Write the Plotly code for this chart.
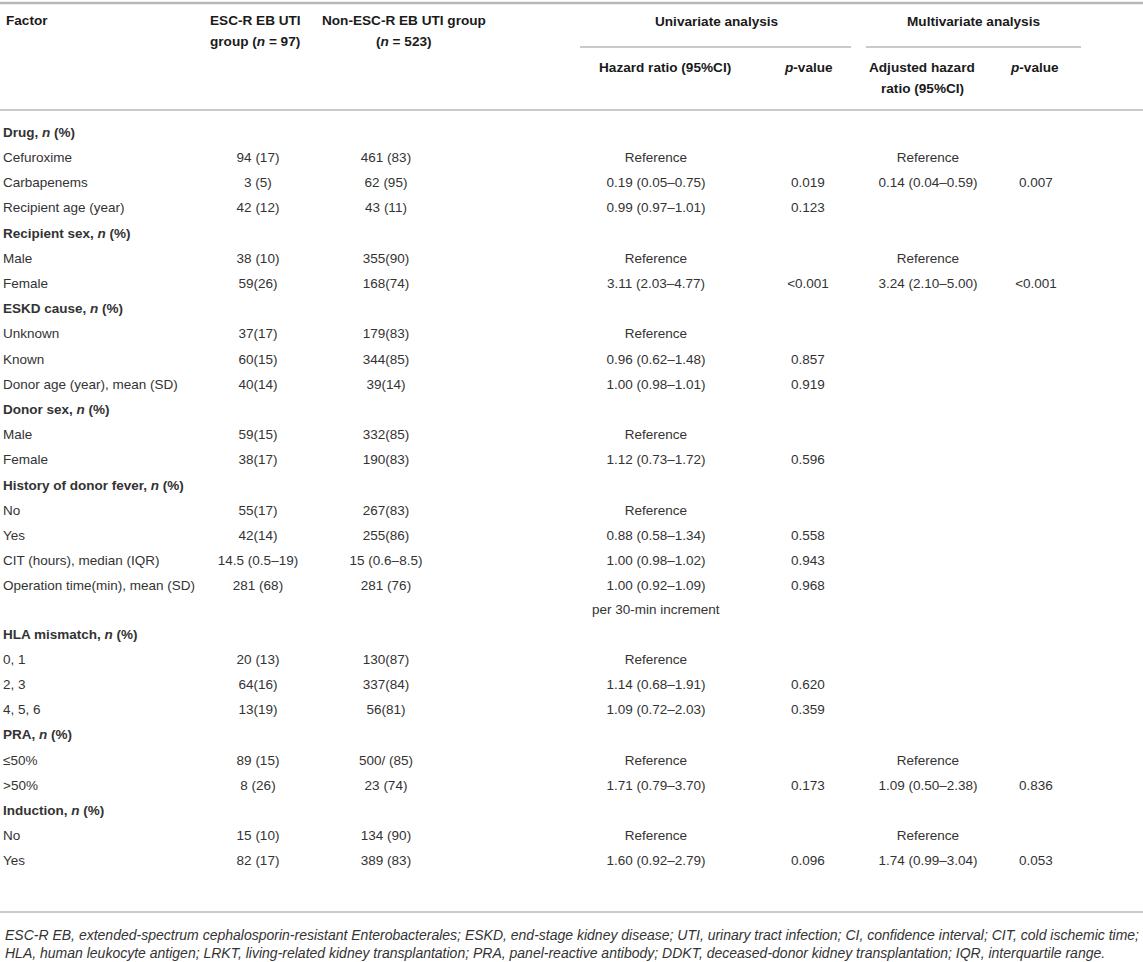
import plotly.graph_objects as go

# table rows (group headers carry an italic n)
factors = [
    "Drug, <i>n</i> (%)", "Cefuroxime", "Carbapenems", "Recipient age (year)",
    "Recipient sex, <i>n</i> (%)", "Male", "Female",
    "ESKD cause, <i>n</i> (%)", "Unknown", "Known", "Donor age (year), mean (SD)",
    "Donor sex, <i>n</i> (%)", "Male", "Female",
    "History of donor fever, <i>n</i> (%)", "No", "Yes",
    "CIT (hours), median (IQR)", "Operation time(min), mean (SD)",
    "HLA mismatch, <i>n</i> (%)", "0, 1", "2, 3", "4, 5, 6",
    "PRA, <i>n</i> (%)", "≤50%", "&gt;50%",
    "Induction, <i>n</i> (%)", "No", "Yes",
]
group_rows = [0, 4, 7, 11, 14, 19, 23, 26]

esc_group = [
    "", "94 (17)", "3 (5)", "42 (12)", "", "38 (10)", "59(26)",
    "", "37(17)", "60(15)", "40(14)", "", "59(15)", "38(17)",
    "", "55(17)", "42(14)", "14.5 (0.5–19)", "281 (68)",
    "", "20 (13)", "64(16)", "13(19)", "", "89 (15)", "8 (26)",
    "", "15 (10)", "82 (17)",
]
non_esc_group = [
    "", "461 (83)", "62 (95)", "43 (11)", "", "355(90)", "168(74)",
    "", "179(83)", "344(85)", "39(14)", "", "332(85)", "190(83)",
    "", "267(83)", "255(86)", "15 (0.6–8.5)", "281 (76)",
    "", "130(87)", "337(84)", "56(81)", "", "500/ (85)", "23 (74)",
    "", "134 (90)", "389 (83)",
]
hazard_ratio = [
    "", "Reference", "0.19 (0.05–0.75)", "0.99 (0.97–1.01)", "", "Reference", "3.11 (2.03–4.77)",
    "", "Reference", "0.96 (0.62–1.48)", "1.00 (0.98–1.01)", "", "Reference", "1.12 (0.73–1.72)",
    "", "Reference", "0.88 (0.58–1.34)", "1.00 (0.98–1.02)", "1.00 (0.92–1.09)",
    "", "Reference", "1.14 (0.68–1.91)", "1.09 (0.72–2.03)", "", "Reference", "1.71 (0.79–3.70)",
    "", "Reference", "1.60 (0.92–2.79)",
]
p_uni = [
    "", "", "0.019", "0.123", "", "", "&lt;0.001",
    "", "", "0.857", "0.919", "", "", "0.596",
    "", "", "0.558", "0.943", "0.968",
    "", "", "0.620", "0.359", "", "", "0.173",
    "", "", "0.096",
]
adj_hazard_ratio = [
    "", "Reference", "0.14 (0.04–0.59)", "", "", "Reference", "3.24 (2.10–5.00)",
    "", "", "", "", "", "", "",
    "", "", "", "", "",
    "", "", "", "", "", "Reference", "1.09 (0.50–2.38)",
    "", "Reference", "1.74 (0.99–3.04)",
]
p_multi = [
    "", "", "0.007", "", "", "", "&lt;0.001",
    "", "", "", "", "", "", "",
    "", "", "", "", "",
    "", "", "", "", "", "", "0.836",
    "", "", "0.053",
]
hr_note = "per 30-min increment"   # second line under the operation-time HR
note_row = 18

footnote = [
    "ESC-R EB, extended-spectrum cephalosporin-resistant Enterobacterales; ESKD, end-stage kidney disease; "
    "UTI, urinary tract infection; CI, confidence interval; CIT, cold ischemic time;",
    "HLA, human leukocyte antigen; LRKT, living-related kidney transplantation; PRA, panel-reactive antibody; "
    "DDKT, deceased-donor kidney transplantation; IQR, interquartile range.",
]

W, H = 1143, 962
FONT = "Liberation Sans"
TXT = "#333333"
HEAD = "#1a1a1a"
LINE = "#b8b8b8"

# vertical layout (pixels from the top)
y0, step, extra = 133.5, 25.2, 23
row_y = [y0 + step * i + (extra if i > note_row else 0) for i in range(len(factors))]

col_x = {"esc": 258, "non": 386, "hr": 656, "p1": 808, "ahr": 928, "p2": 1036}

fig = go.Figure()

def text_col(x, values, pos="middle center", bold_rows=()):
    txt = [f"<b>{v}</b>" if i in bold_rows and v else v for i, v in enumerate(values)]
    fig.add_trace(go.Scatter(
        x=[x] * len(values), y=row_y, text=txt, mode="text",
        textposition=pos, hoverinfo="skip", showlegend=False, cliponaxis=False,
        textfont=dict(family=FONT, size=13.5, color=TXT),
    ))

text_col(3, factors, pos="middle right", bold_rows=group_rows)
text_col(col_x["esc"], esc_group)
text_col(col_x["non"], non_esc_group)
text_col(col_x["hr"], hazard_ratio)
text_col(col_x["p1"], p_uni)
text_col(col_x["ahr"], adj_hazard_ratio)
text_col(col_x["p2"], p_multi)

fig.add_annotation(x=col_x["hr"], y=row_y[note_row] + 22, text=hr_note, showarrow=False,
                   font=dict(family=FONT, size=13.5, color=TXT))

# header
hfont = dict(family=FONT, size=13.6, color=HEAD)
headers = [
    (4, 20, "<b>Factor</b>", "left"),
    (208, 20, "<b>ESC-R EB UTI</b>", "left"),
    (208, 41, "<b>group (<i>n</i> = 97)</b>", "left"),
    (404, 20, "<b>Non-ESC-R EB UTI group</b>", "center"),
    (404, 41, "<b>(<i>n</i> = 523)</b>", "center"),
    (716, 21, "<b>Univariate analysis</b>", "center"),
    (973, 21, "<b>Multivariate analysis</b>", "center"),
    (665, 67, "<b>Hazard ratio (95%CI)</b>", "center"),
    (808, 67, "<b><i>p</i>-value</b>", "center"),
    (922, 67, "<b>Adjusted hazard</b>", "center"),
    (922, 88, "<b>ratio (95%CI)</b>", "center"),
    (1034, 67, "<b><i>p</i>-value</b>", "center"),
]
for x, y, t, anchor in headers:
    fig.add_annotation(x=x, y=y, text=t, showarrow=False, xanchor=anchor, font=hfont)

for i, line in enumerate(footnote):
    fig.add_annotation(x=3, y=935 + 18 * i, text=f"<i>{line}</i>", showarrow=False, xanchor="left",
                       font=dict(family=FONT, size=14, color=TXT))

# rules
rules = [(0, W, 3, 2.5), (580, 851, 47, 1.3), (866, 1081, 47, 1.3), (0, W, 110, 1.5), (0, W, 912, 1.5)]
for xa, xb, y, w in rules:
    fig.add_shape(type="line", x0=xa, x1=xb, y0=y, y1=y, line=dict(color=LINE, width=w))

fig.update_xaxes(range=[0, W], visible=False, fixedrange=True)
fig.update_yaxes(range=[H, 0], visible=False, fixedrange=True)
fig.update_layout(width=W, height=H, margin=dict(l=0, r=0, t=0, b=0),
                  plot_bgcolor="white", paper_bgcolor="white")
fig.write_html("out.html", config={"displayModeBar": False},
               post_script="document.body.style.margin='0';")
